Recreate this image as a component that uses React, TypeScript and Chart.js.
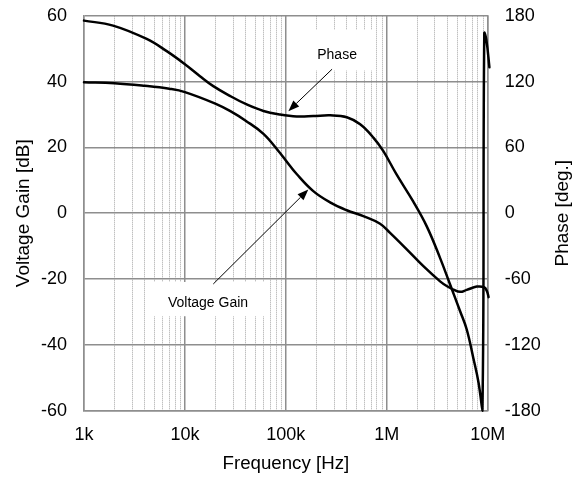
import React, { useEffect, useRef } from "react";
import { Chart, registerables } from "chart.js";

Chart.register(...registerables);

const FONT = "'Liberation Sans', Arial, Helvetica, sans-serif";

// ---- axis ticks ----
const xDecades: number[] = [1e3, 1e4, 1e5, 1e6, 1e7];
const xDecadeLabels: string[] = ["1k", "10k", "100k", "1M", "10M"];
const xMinorMultipliers: number[] = [2, 3, 4, 5, 6, 7, 8, 9];
const gainTickStep = 20;
const phaseTickStep = 60;

// ---- Voltage gain series (dB, left axis) ----
const gainFreq: number[] = [
  1000, 2000, 4000, 7000, 10000, 20000, 28200, 40000, 60000, 87600, 100000,
  128000, 187000, 274000, 401000, 586000, 858000, 1078000, 1578000, 2305000,
  3375000, 3960000, 4570000, 5330000, 6200000, 7800000, 9200000, 9800000,
  10200000, 10600000,
];
const gainDb: number[] = [
  39.8, 39.5, 38.7, 37.8, 36.8, 33.3, 31.0, 28.1, 24.1, 18.3, 16.0,
  11.9, 6.7, 3.3, 0.9, -0.9, -3.2, -6.0, -11.0, -16.1,
  -20.7, -22.2, -23.2, -23.9, -23.3, -22.3, -22.5, -23.6,
  -25.5, -27.4,
];

// ---- Phase series (deg, right axis) ----
const phaseFreq: number[] = [
  1000, 1940, 4180, 6600, 10000, 14100, 19100, 28200, 40900, 60000, 87600,
  128000, 187000, 275000, 402000, 545000, 740000, 925000, 1250000, 1820000,
  2490000, 3370000, 4240000, 5330000, 6200000, 7200000, 8100000, 8860000,
  9250000, 9700000, 10400000,
];
const phaseDeg: number[] = [
  175.5, 171, 158.8, 147.7, 135.8, 124.9, 115.8, 106.7, 99.1, 93.2, 90,
  88.2, 88.5, 89.2, 87.5, 81, 68.7, 56.5, 35.3, 10.9,
  -12, -40.7, -65, -89.4, -106, -131.9, -154, -180,
  164, 158, 133,
];

// ---- annotations (in data coordinates of frequency / left axis dB) ----
const labelTexts: string[] = ["Phase", "Voltage Gain"];
const labelFreq: number[] = [321700, 16940];
const labelDb: number[] = [46.7, -28.5];
const boxFreqFrom: number[] = [135000, 4410];
const boxFreqTo: number[] = [766000, 65100];
const boxDbTop: number[] = [55.7, -20.9];
const boxDbBottom: number[] = [43.35, -31.3];
const arrowFromFreq: number[] = [287000, 19100];
const arrowFromDb: number[] = [43.75, -21.5];
const arrowToFreq: number[] = [105900, 167000];
const arrowToDb: number[] = [31.0, 7.2];

const MAJOR = "#8e8e8e";
const MINOR = "#a6a6a6";

const isDecade = (v: number) => {
  const l = Math.log10(v);
  return Math.abs(l - Math.round(l)) < 1e-9;
};

const xTickValues: number[] = [];
for (let d = 0; d < xDecades.length - 1; d++) {
  xTickValues.push(xDecades[d]);
  for (const m of xMinorMultipliers) xTickValues.push(xDecades[d] * m);
}
xTickValues.push(xDecades[xDecades.length - 1]);

const annotationPlugin = {
  id: "bodeAnnotations",
  beforeDatasetsDraw(chart: any) {
    const { ctx, scales } = chart;
    const x = scales.x;
    const y = scales.y;
    ctx.save();
    ctx.fillStyle = "#ffffff";
    for (let i = 0; i < labelTexts.length; i++) {
      const x0 = x.getPixelForValue(boxFreqFrom[i]);
      const x1 = x.getPixelForValue(boxFreqTo[i]);
      const y0 = y.getPixelForValue(boxDbTop[i]);
      const y1 = y.getPixelForValue(boxDbBottom[i]);
      ctx.fillRect(Math.min(x0, x1), Math.min(y0, y1), Math.abs(x1 - x0), Math.abs(y1 - y0));
    }
    ctx.restore();
  },
  afterDatasetsDraw(chart: any) {
    const { ctx, scales, chartArea } = chart;
    const x = scales.x;
    const y = scales.y;
    ctx.save();
    ctx.fillStyle = "#000";
    ctx.font = `14px ${FONT}`;
    ctx.textAlign = "center";
    ctx.textBaseline = "alphabetic";
    for (let i = 0; i < labelTexts.length; i++) {
      ctx.fillText(labelTexts[i], x.getPixelForValue(labelFreq[i]), y.getPixelForValue(labelDb[i]));
    }
    ctx.strokeStyle = "#000";
    ctx.lineWidth = 1;
    for (let i = 0; i < arrowFromFreq.length; i++) {
      const sx = x.getPixelForValue(arrowFromFreq[i]);
      const sy = y.getPixelForValue(arrowFromDb[i]);
      const tx = x.getPixelForValue(arrowToFreq[i]);
      const ty = y.getPixelForValue(arrowToDb[i]);
      const ang = Math.atan2(ty - sy, tx - sx);
      const headLen = 11;
      const headHalf = 4.2;
      const bx = tx - headLen * Math.cos(ang);
      const by = ty - headLen * Math.sin(ang);
      ctx.beginPath();
      ctx.moveTo(sx, sy);
      ctx.lineTo(bx, by);
      ctx.stroke();
      ctx.beginPath();
      ctx.moveTo(tx, ty);
      ctx.lineTo(bx + headHalf * Math.sin(ang), by - headHalf * Math.cos(ang));
      ctx.lineTo(bx - headHalf * Math.sin(ang), by + headHalf * Math.cos(ang));
      ctx.closePath();
      ctx.fill();
    }
    ctx.font = `19px ${FONT}`;
    ctx.textBaseline = "middle";
    ctx.translate(563, (chartArea.top + chartArea.bottom) / 2);
    ctx.rotate(-Math.PI / 2);
    ctx.fillText("Phase [deg.]", 0, 0);
    ctx.restore();
  },
};

export default function App() {
  const canvasRef = useRef<HTMLCanvasElement | null>(null);

  useEffect(() => {
    const canvas = canvasRef.current;
    if (!canvas) return;
    const lineStyle = {
      borderColor: "#000",
      borderWidth: 2.5,
      pointRadius: 0,
      tension: 0.4,
      borderCapStyle: "round",
      borderJoinStyle: "round",
      clip: 10,
    };
    const chart = new Chart(canvas, {
      type: "line",
      data: {
        datasets: [
          {
            label: "Voltage Gain",
            data: gainFreq.map((f, i) => ({ x: f, y: gainDb[i] })),
            yAxisID: "y",
            ...lineStyle,
          },
          {
            label: "Phase",
            data: phaseFreq.map((f, i) => ({ x: f, y: phaseDeg[i] })),
            yAxisID: "y1",
            ...lineStyle,
          },
        ],
      },
      options: {
        responsive: false,
        animation: false,
        events: [],
        layout: { padding: { top: 15.7, left: 0, right: 0, bottom: 0 } },
        plugins: { legend: { display: false }, tooltip: { enabled: false } },
        scales: {
          x: {
            type: "logarithmic",
            position: "bottom",
            min: xDecades[0],
            max: xDecades[xDecades.length - 1],
            afterBuildTicks: (s: any) => {
              s.ticks = xTickValues.map((v) => ({ value: v, major: isDecade(v) }));
            },
            afterFit: (s: any) => {
              s.height = 66.3;
              s.paddingLeft = 0;
              s.paddingRight = 0;
            },
            ticks: {
              autoSkip: false,
              maxRotation: 0,
              minRotation: 0,
              padding: 13.5,
              color: "#000",
              font: { family: FONT, size: 18 },
              callback: (v: any) => {
                const idx = xDecades.findIndex((d) => Math.abs(d - Number(v)) < 1e-6 * d);
                return idx >= 0 ? xDecadeLabels[idx] : "";
              },
            },
            grid: {
              drawTicks: false,
              color: (c: any) => (c.tick && !isDecade(c.tick.value) ? MINOR : MAJOR),
              lineWidth: (c: any) => (c.tick && !isDecade(c.tick.value) ? 1 : 1.5),
            },
            border: {
              display: true,
              color: MAJOR,
              width: 1.5,
              dash: (c: any) => (c.tick && !isDecade(c.tick.value) ? [1, 1] : []),
            },
            title: {
              display: true,
              text: "Frequency [Hz]",
              color: "#000",
              font: { family: FONT, size: 18.7 },
              padding: { top: 0, bottom: 2.3 },
            },
          },
          y: {
            type: "linear",
            position: "left",
            min: -60,
            max: 60,
            afterFit: (s: any) => {
              s.width = 84;
              s.paddingTop = 0;
              s.paddingBottom = 0;
            },
            ticks: {
              stepSize: gainTickStep,
              padding: 17,
              color: "#000",
              font: { family: FONT, size: 18 },
            },
            grid: { drawTicks: false, color: MAJOR, lineWidth: 1.5 },
            border: { display: true, color: MAJOR, width: 1.5 },
            title: {
              display: true,
              text: "Voltage Gain [dB]",
              color: "#000",
              font: { family: FONT, size: 19 },
              padding: { top: 12, bottom: 0 },
            },
          },
          y1: {
            type: "linear",
            position: "right",
            min: -180,
            max: 180,
            afterFit: (s: any) => {
              s.width = 90.3;
              s.paddingTop = 0;
              s.paddingBottom = 0;
            },
            ticks: {
              stepSize: phaseTickStep,
              padding: 17,
              color: "#000",
              font: { family: FONT, size: 18 },
            },
            grid: { display: false, drawTicks: false },
            border: { display: true, color: MAJOR, width: 1.5 },
            title: { display: false },
          },
        },
      },
      plugins: [annotationPlugin],
    } as any);
    return () => chart.destroy();
  }, []);

  return (
    <div style={{ position: "fixed", left: 0, top: 0, width: 578, height: 477, background: "#fff" }}>
      <canvas ref={canvasRef} width={578} height={477} style={{ display: "block" }} />
    </div>
  );
}
